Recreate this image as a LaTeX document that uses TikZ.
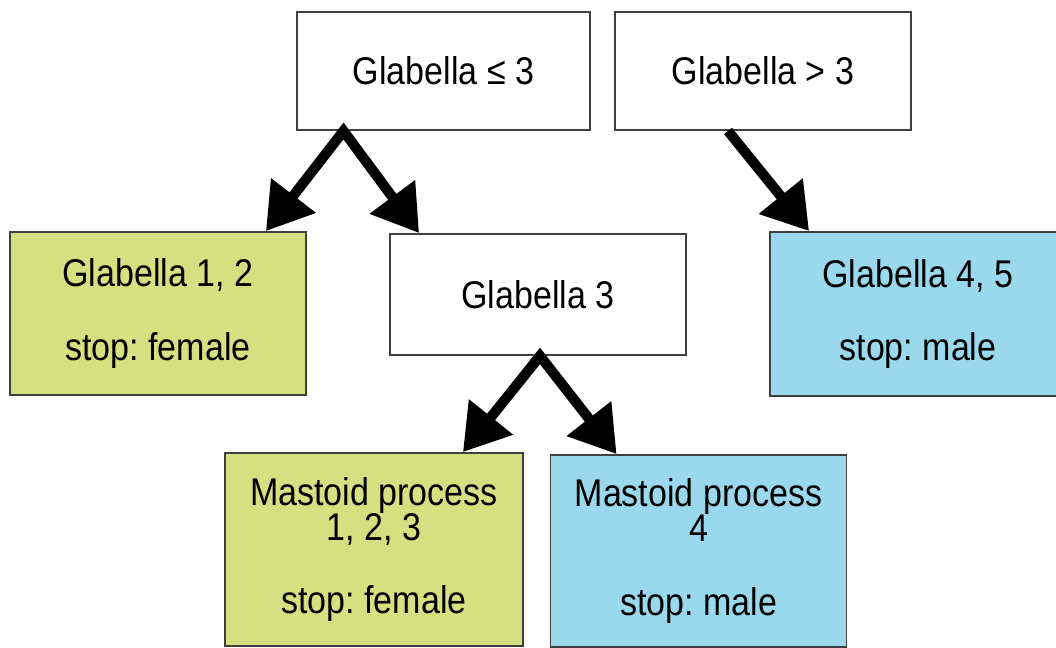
\documentclass[tikz,border=0pt]{standalone}
\usepackage{fontspec}
\setmainfont{Liberation Sans}[FakeStretch=0.88]
\usetikzlibrary{arrows.meta, calc}
\frenchspacing

\definecolor{femalegreen}{RGB}{213,225,128}
\definecolor{maleblue}{RGB}{154,216,238}

\begin{document}
\begin{tikzpicture}[x=0.02cm, y=-0.02cm,
        box/.style={draw=black!75, line width=1.1pt, minimum width=5.92cm,
            align=center, inner sep=0pt,
            font=\fontsize{22}{20}\selectfont},
        arr/.style={line width=5.8pt, line join=miter,
            {Triangle[length=0.9cm, width=1.08cm]}-{Triangle[length=0.9cm, width=1.08cm]}},
        arrone/.style={line width=5.8pt, -{Triangle[length=0.9cm, width=1.08cm]}}]
            % 1. Page frame
            \useasboundingbox (0,0) rectangle (1056,647);
            \clip (0,0) rectangle (1056,647);

            % 2. Boxes (centre, size in px)
            \node[box, minimum width=5.86cm, minimum height=2.36cm] (le3) at (443.5,71) {Glabella ≤ 3};
            \node[box, minimum height=2.36cm] (gt3) at (763,71) {Glabella > 3};
            \node[box, fill=femalegreen, minimum height=3.26cm] (g12) at (158,313.5)
                {Glabella 1, 2\\[22pt]stop: female};
            \node[box, minimum height=2.42cm] (g3) at (538,294.5) {Glabella 3};
            \node[box, fill=maleblue, minimum height=3.28cm] (g45) at (918,314)
                {Glabella 4, 5\\[22pt]stop: male};
            \node[box, fill=femalegreen, minimum width=5.96cm, minimum height=3.86cm] (m123) at (374,549.5)
                {Mastoid process\\1, 2, 3\\[22pt]stop: female};
            \node[box, fill=maleblue, minimum height=3.84cm] (m4) at (698.5,551)
                {Mastoid process\\4\\[22pt]stop: male};

            % 3. Arrows
            \coordinate (fork1) at ($(le3.south)+(-100,0)$);
            \coordinate (fork2) at ($(g3.south)+(2,0)$);
            \draw[arr] ($(g12.north east)+(-41,0)$) -- (fork1) -- ($(g3.north west)+(30,0)$);
            \draw[arrone] ($(gt3.south)+(-35,0)$) -- ($(g45.north west)+(40,0)$);
            \draw[arr] ($(m123.north east)+(-61,0)$) -- (fork2) -- ($(m4.north west)+(67,0)$);
        \end{tikzpicture}
\end{document}
